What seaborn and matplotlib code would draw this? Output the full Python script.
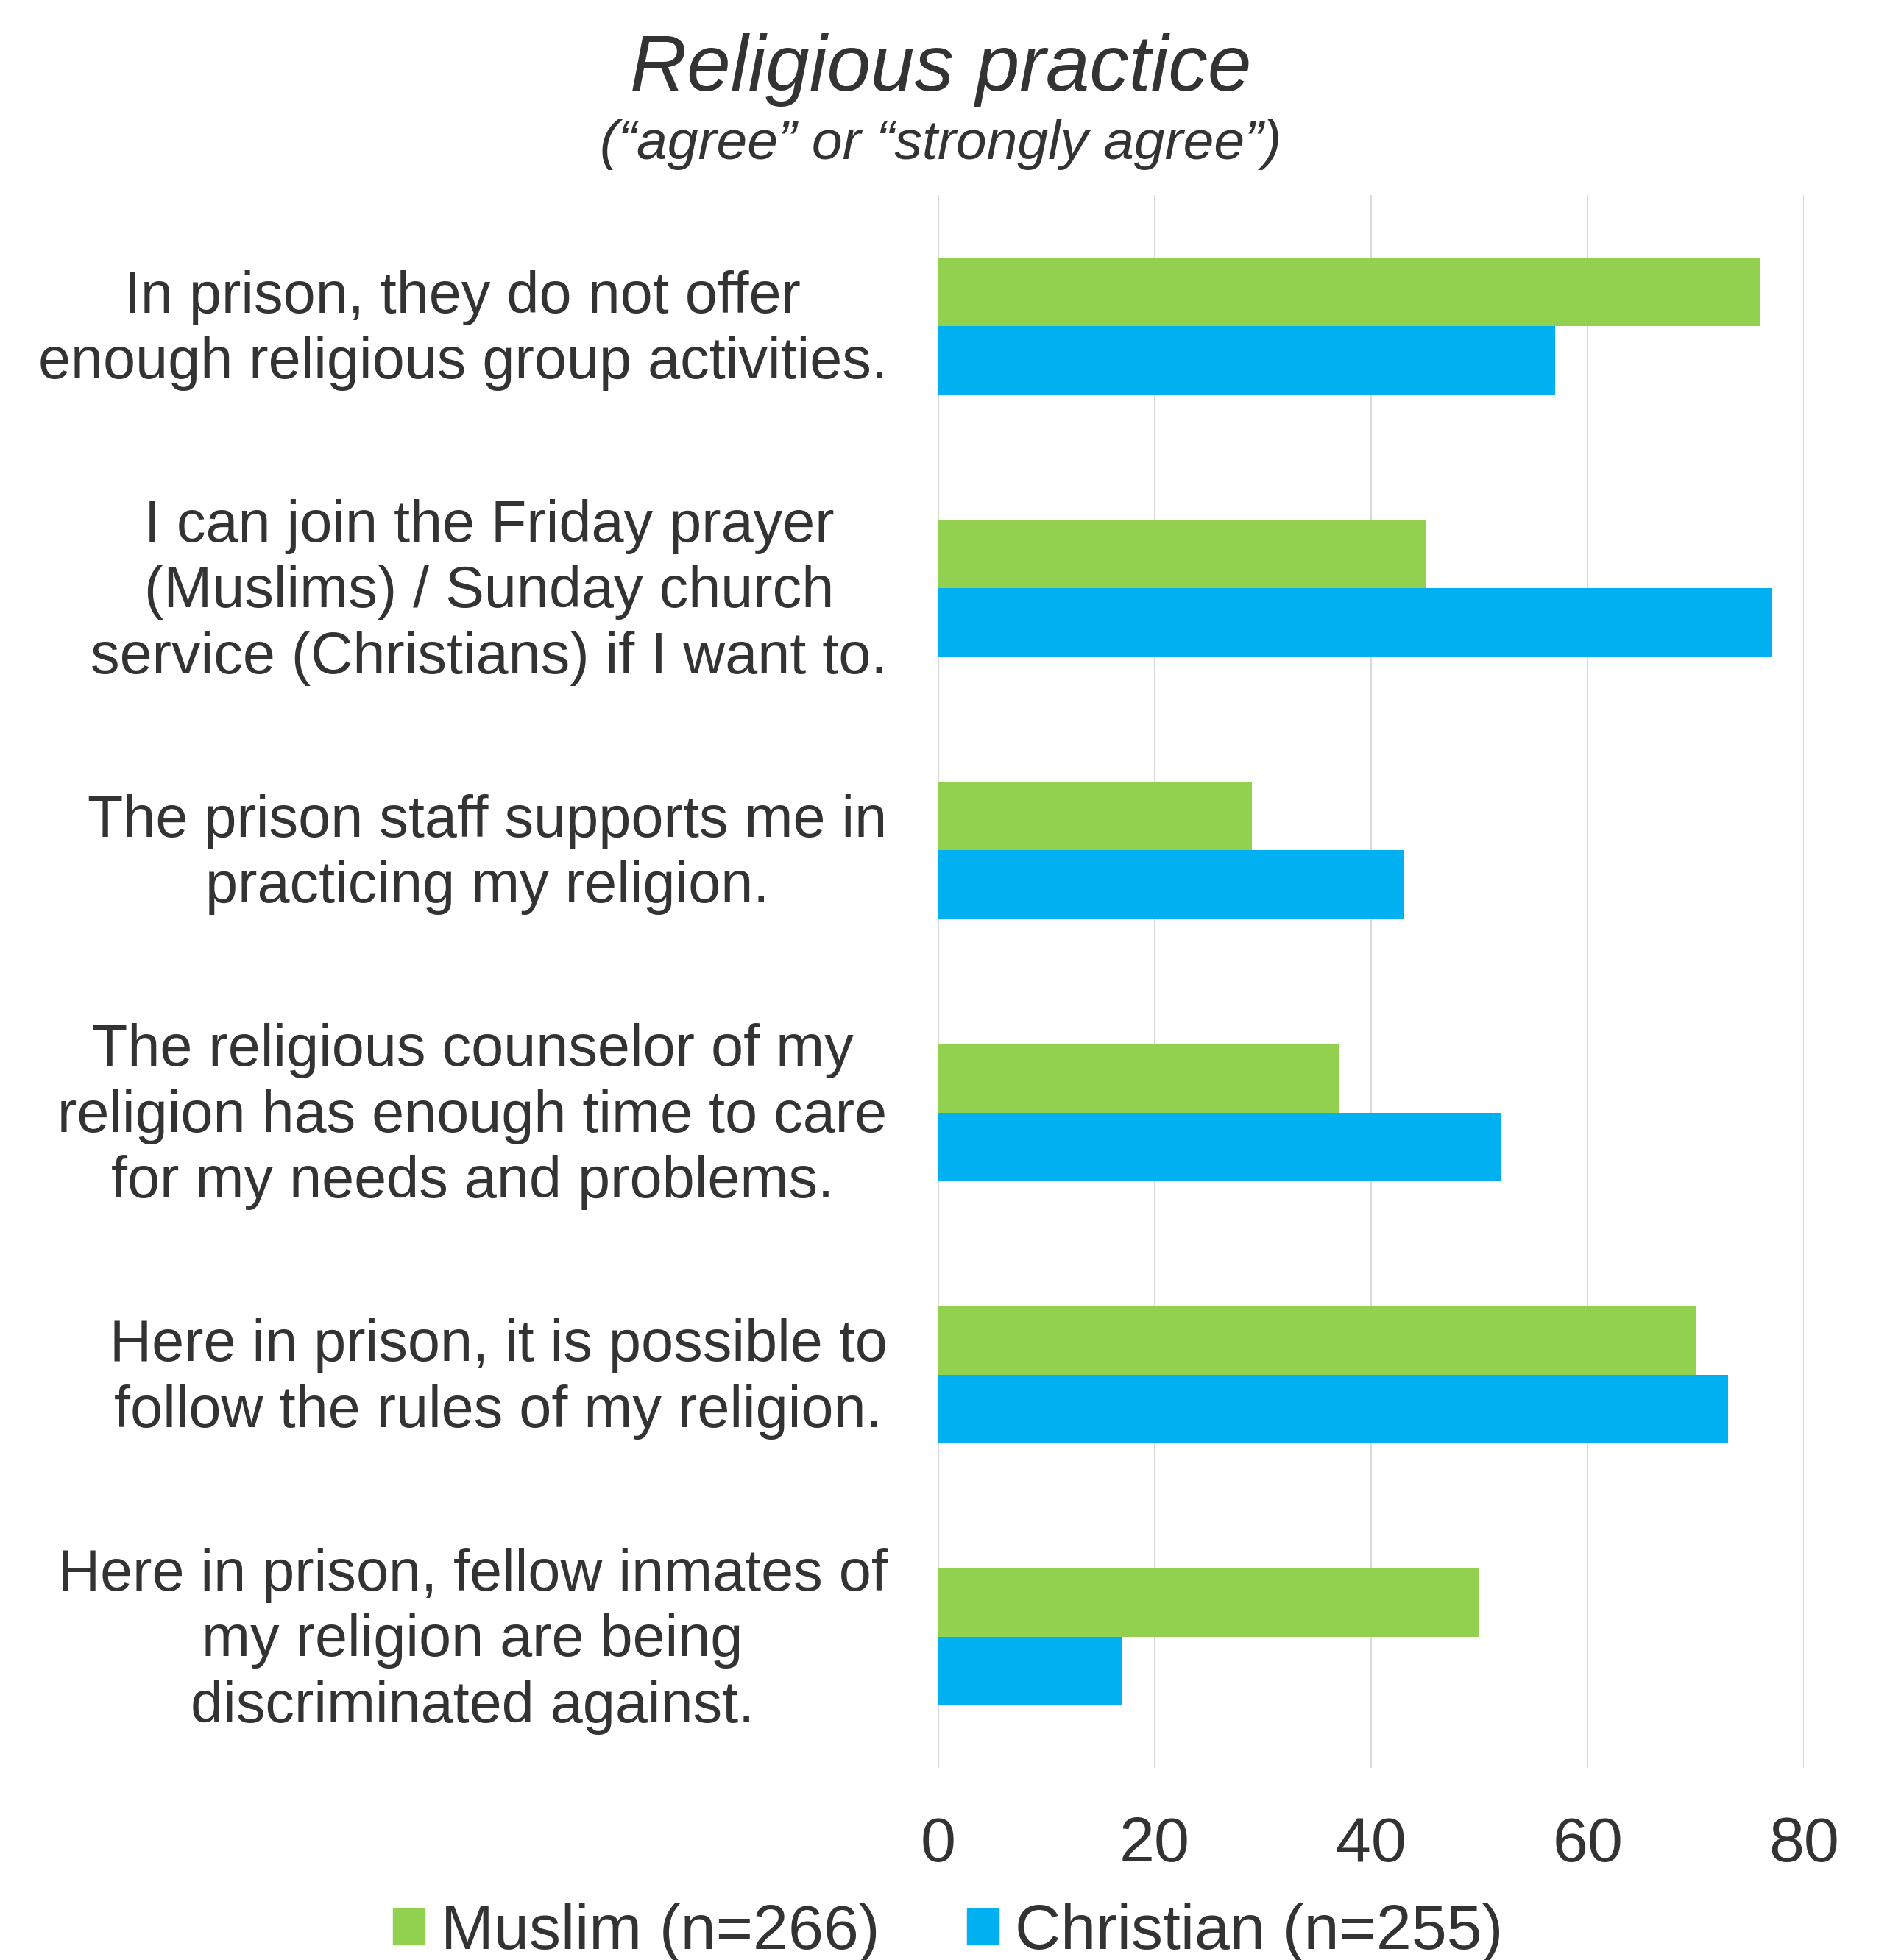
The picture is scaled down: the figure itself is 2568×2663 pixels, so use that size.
import numpy as np
import pandas as pd
import matplotlib
matplotlib.use("Agg")
import matplotlib.pyplot as plt
import matplotlib.transforms as mtransforms
import seaborn as sns

# Data (percent agree / strongly agree)
statements = [
    "In prison, they do not offer\nenough religious group activities.",
    "I can join the Friday prayer\n(Muslims) / Sunday church\nservice (Christians) if I want to.",
    "The prison staff supports me in\npracticing my religion.",
    "The religious counselor of my\nreligion has enough time to care\nfor my needs and problems.",
    "Here in prison, it is possible to\nfollow the rules of my religion.",
    "Here in prison, fellow inmates of\nmy religion are being\ndiscriminated against.",
]
groups = ["Muslim (n=266)", "Christian (n=255)"]
muslim = [76, 45, 29, 37, 70, 50]
christian = [57, 77, 43, 52, 73, 17]
x_ticks = [0, 20, 40, 60, 80]

colors = ["#92D050", "#00B0F0"]
text_col = "#333333"

sns.set_style("white")
plt.rcParams["font.family"] = ["Liberation Sans", "DejaVu Sans"]
plt.rcParams["text.color"] = text_col

df = pd.DataFrame({
    "statement": statements * 2,
    "group": [groups[0]] * len(statements) + [groups[1]] * len(statements),
    "value": muslim + christian,
})

fig = plt.figure(figsize=(25.68, 26.63), dpi=100)
ax = fig.add_axes([0.4965, 0.098, 0.458, 0.8025])

sns.barplot(data=df, x="value", y="statement", hue="group", orient="h",
            palette=colors, width=0.525, errorbar=None, ax=ax,
            saturation=1, linewidth=0)

ax.set_xlim(0, 80)
ax.set_ylim(5.5, -0.5)
ax.set_xticks(x_ticks)
ax.set_xlabel("")
ax.set_ylabel("")
ax.grid(axis="x", color="#D9D9D9", linewidth=1.5)
ax.set_axisbelow(True)
for s in ax.spines.values():
    s.set_visible(False)

ax.tick_params(axis="x", length=0, pad=47, labelsize=62, labelcolor=text_col)
ax.tick_params(axis="y", length=0, pad=50, labelsize=57, labelcolor=text_col)

# labels sit a little above the group centre in the original
shift = mtransforms.ScaledTranslation(0, 0.1, fig.dpi_scale_trans)
for tick in ax.yaxis.get_major_ticks():
    lab = tick.label1
    lab.set_multialignment("center")
    lab.set_linespacing(1.25)
    lab.set_transform(lab.get_transform() + shift)

ax.get_legend().remove()
handles = [plt.Rectangle((0, 0), 1, 1, color=c) for c in colors]
fig.legend(handles, groups, loc="center", bbox_to_anchor=(0.5017, 0.014),
           ncol=2, frameon=False, fontsize=62, handlelength=0.5,
           handleheight=0.5, handletextpad=0.25, columnspacing=1.38,
           labelcolor=text_col)

fig.text(0.4977, 0.9538, "Religious practice", ha="center", va="baseline",
         fontsize=77, style="italic", color=text_col)
fig.text(0.4977, 0.919, "(\u201cagree\u201d or \u201cstrongly agree\u201d)",
         ha="center", va="baseline", fontsize=54, style="italic", color=text_col)

fig.savefig("out.png", dpi=100)
